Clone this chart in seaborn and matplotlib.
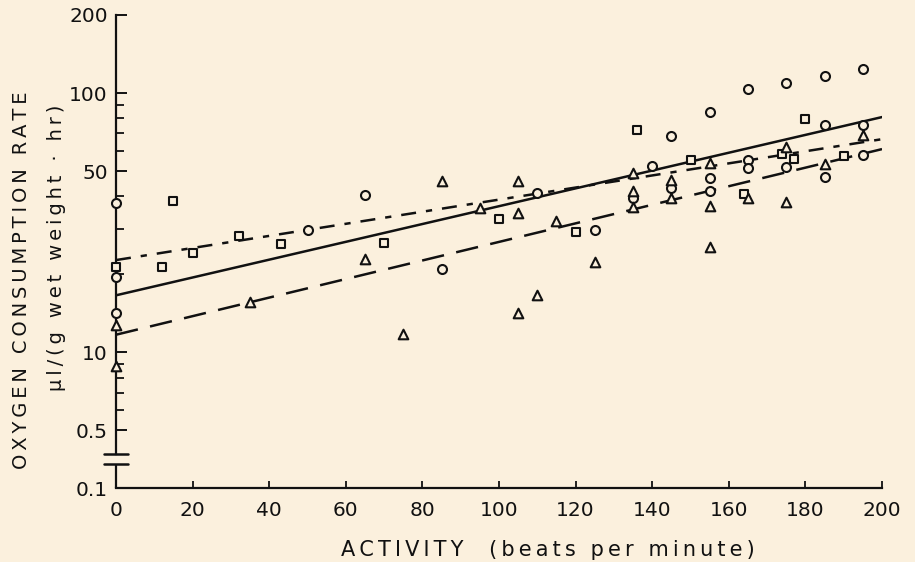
import matplotlib
matplotlib.use("Agg")
import matplotlib.pyplot as plt
import matplotlib.transforms as mtransforms
import seaborn as sns
import pandas as pd

# ---------------- data ----------------
circle_x = [0, 0, 0, 50, 65, 85, 110, 125, 135, 140, 145, 145, 155, 155, 155,
            165, 165, 165, 175, 175, 185, 185, 185, 195, 195, 195]
circle_y = [37.6, 19.5, 14.2, 29.6, 40.4, 20.9, 41.1, 29.6, 39.4, 52.3, 43.0, 68.2,
            84.5, 47.0, 41.9, 103.6, 55.1, 51.3, 109.3, 51.8, 116.3, 75.2, 47.4,
            124.0, 75.2, 57.6]

square_x = [0, 12, 15, 20, 32, 43, 70, 100, 120, 136, 150, 164, 174, 177, 180, 190]
square_y = [21.3, 21.3, 38.3, 24.1, 28.1, 26.1, 26.4, 32.7, 29.1, 72.0, 55.1, 40.7,
            58.1, 55.6, 79.4, 57.1]

triangle_x = [0, 0, 35, 65, 75, 85, 95, 105, 105, 105, 110, 115, 125, 135, 135, 135,
              145, 145, 155, 155, 155, 165, 175, 175, 185, 195]
triangle_y = [12.8, 8.9, 15.6, 22.9, 11.8, 45.7, 35.9, 45.7, 34.4, 14.2, 16.6, 32.1,
              22.4, 49.1, 41.9, 36.3, 46.2, 39.4, 53.7, 36.6, 25.6, 39.4, 61.9, 38.0,
              53.2, 68.9]

fit_x = [0, 200]
fit_circle = [16.6, 80.8]     # solid
fit_square = [22.7, 66.4]     # dash-dot
fit_triangle = [11.7, 60.8]   # long dash

x_ticks = [0, 20, 40, 60, 80, 100, 120, 140, 160, 180, 200]
x_ticklabels = ["0", "20", "40", "60", "80", "100", "120", "140", "160", "180", "200"]
y_ticks = [3.0, 5, 10, 50, 100, 200]
y_ticklabels = ["0.1", "0.5", "10", "50", "100", "200"]
y_minor = [6, 7, 8, 9, 20, 30, 40, 60, 70, 80, 90]
y_break = [3.72, 4.07]

x_title = "ACTIVITY  (beats per minute)"
y_title = "OXYGEN CONSUMPTION RATE"
y_units = "μl/(g wet weight · hr)"

# ---------------- styling ----------------
BG = "#fbf0dd"
INK = "#111111"
sns.set_theme(style="ticks")
plt.rcParams["font.family"] = ["DejaVu Sans"]


def track(s):
    """Widen letter spacing with thin spaces, like the typeset original."""
    return "\u2009".join(s)


fig = plt.figure(figsize=(9.15, 5.62), dpi=100, facecolor=BG)
ax = fig.add_axes([116 / 915, 1 - 488 / 562, (882 - 116) / 915, (488 - 15) / 562])
ax.set_facecolor(BG)
ax.set_yscale("log")
ax.set_xlim(0, 200)
ax.set_ylim(3.0, 200)

# fitted lines
lines = pd.DataFrame({"x": fit_x, "c": fit_circle, "s": fit_square, "t": fit_triangle})
sns.lineplot(data=lines, x="x", y="c", ax=ax, color=INK, lw=1.8, zorder=2)
sns.lineplot(data=lines, x="x", y="s", ax=ax, color=INK, lw=1.8, zorder=2,
             linestyle=(0, (6, 4, 2.5, 4)))
sns.lineplot(data=lines, x="x", y="t", ax=ax, color=INK, lw=1.8, zorder=2,
             linestyle=(0, (9, 5)))

# points
mk = dict(color=BG, edgecolor=INK, linewidth=1.5, zorder=3, clip_on=False, legend=False)
sns.scatterplot(x=circle_x, y=circle_y, marker="o", s=42, ax=ax, **mk)
sns.scatterplot(x=square_x, y=square_y, marker="s", s=36, ax=ax, **mk)
sns.scatterplot(x=triangle_x, y=triangle_y, marker="^", s=48, ax=ax, **mk)

# axes look
for side in ["top", "right"]:
    ax.spines[side].set_visible(False)
for side in ["left", "bottom"]:
    ax.spines[side].set_linewidth(1.6)
    ax.spines[side].set_color(INK)
ax.spines["left"].set_bounds(y_break[1], 200)

trans = mtransforms.blended_transform_factory(ax.transAxes, ax.transData)
ax.plot([0, 0], [3.0, y_break[0]], color=INK, lw=1.6, transform=trans, clip_on=False,
        solid_capstyle="butt")
for yb in y_break:
    ax.plot([-0.016, 0.016], [yb, yb], color=INK, lw=1.8, transform=trans, clip_on=False)

ax.set_xticks(x_ticks)
ax.set_xticklabels(x_ticklabels)
ax.set_yticks(y_ticks)
ax.set_yticklabels(y_ticklabels)
ax.yaxis.set_minor_locator(matplotlib.ticker.FixedLocator(y_minor))
ax.yaxis.set_minor_formatter(matplotlib.ticker.NullFormatter())
ax.tick_params(axis="x", direction="in", length=5, width=1.3, colors=INK,
               labelsize=14.5, pad=9)
ax.tick_params(axis="y", which="major", direction="in", length=8, width=1.4,
               colors=INK, labelsize=14.5, pad=6)
ax.tick_params(axis="y", which="minor", direction="in", length=6, width=1.3, colors=INK)
ax.set_xlabel("")
ax.set_ylabel("")

fig.text(548 / 915, 1 - 550 / 562, track(x_title), ha="center",
         va="center", fontsize=15, color=INK)
fig.text(22 / 915, 1 - 280 / 562, track(y_title), rotation=90,
         ha="center", va="center", fontsize=14, color=INK)
fig.text(56 / 915, 1 - 248 / 562, track(y_units), rotation=90,
         ha="center", va="center", fontsize=14, color=INK)

fig.savefig("out.png", dpi=100, facecolor=BG)
